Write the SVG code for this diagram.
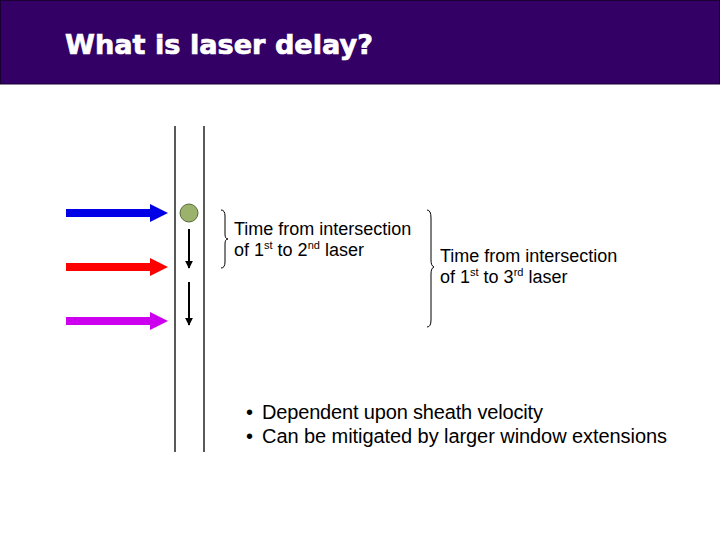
<svg xmlns="http://www.w3.org/2000/svg" width="720" height="540" viewBox="0 0 720 540">
<defs>
<style>
.t{font-family:"Liberation Sans",Arial,sans-serif;fill:#000}
.lbl{font-size:18px}
.bul{font-size:20px}
.sup{font-size:11px}
.wall{stroke:#000;stroke-width:1.3;fill:none}
.brace{stroke:#000;stroke-width:1;fill:none}
.drop{stroke:#000;stroke-width:2;fill:none}
</style>
<marker id="ah" viewBox="0 0 10 10" refX="9" refY="5" markerWidth="4" markerHeight="5" markerUnits="strokeWidth" orient="auto">
<path d="M0,0 L10,5 L0,10 z" fill="#000"/>
</marker>
</defs>
<rect width="720" height="540" fill="#fff"/>
<g id="header">
<rect x="0.5" y="0.5" width="719" height="83.5" fill="#330066" stroke="#1a0033" stroke-width="1"/>
<text x="65" y="54" font-family="'DejaVu Sans',Verdana,sans-serif" font-weight="bold" font-size="27" fill="#fff" stroke="#fff" stroke-width="0.7" textLength="308" lengthAdjust="spacingAndGlyphs">What is laser delay?</text>
</g>
<g id="walls">
<line class="wall" x1="175" y1="126" x2="175" y2="452"/>
<line class="wall" x1="204" y1="126" x2="204" y2="452"/>
</g>
<g id="laser1">
<rect x="66" y="209" width="85" height="8" fill="#0000e6"/>
<polygon points="150,204 168,213 150,222" fill="#0000e6"/>
</g>
<g id="laser2">
<rect x="66" y="263" width="85" height="8" fill="#ff0000"/>
<polygon points="150,258 168,267 150,276" fill="#ff0000"/>
</g>
<g id="laser3">
<rect x="66" y="317" width="85" height="8" fill="#cc00ee"/>
<polygon points="150,312 168,321 150,330" fill="#cc00ee"/>
</g>
<g id="particle">
<circle cx="189" cy="213" r="9" fill="#9bb26d" stroke="#5a6b3a" stroke-width="1"/>
</g>
<g id="connectors">
<line class="drop" x1="189" y1="229" x2="189" y2="268" marker-end="url(#ah)"/>
<line class="drop" x1="189" y1="282" x2="189" y2="325" marker-end="url(#ah)"/>
<path class="brace" d="M221,210 Q225,210 225,216 L225,234 Q225,239 228,239 Q225,239 225,244 L225,262 Q225,268 221,268"/>
<path class="brace" d="M427,210 Q431,210 431,218 L431,260 Q431,266 434,267 Q431,268 431,274 L431,320 Q431,327 427,327"/>
</g>
<g id="label1">
<text class="t lbl" x="234" y="235">Time from intersection</text>
<text class="t lbl" x="234" y="256">of 1<tspan class="sup" dy="-7">st</tspan><tspan dy="7"> to 2</tspan><tspan class="sup" dy="-7">nd</tspan><tspan dy="7"> laser</tspan></text>
</g>
<g id="label2">
<text class="t lbl" x="440" y="262">Time from intersection</text>
<text class="t lbl" x="440" y="283">of 1<tspan class="sup" dy="-7">st</tspan><tspan dy="7"> to 3</tspan><tspan class="sup" dy="-7">rd</tspan><tspan dy="7"> laser</tspan></text>
</g>
<g id="bullets">
<text class="t bul" x="246" y="419">•</text>
<text class="t bul" x="262" y="419" textLength="281">Dependent upon sheath velocity</text>
<text class="t bul" x="246" y="443">•</text>
<text class="t bul" x="262" y="443" textLength="405">Can be mitigated by larger window extensions</text>
</g>
</svg>
